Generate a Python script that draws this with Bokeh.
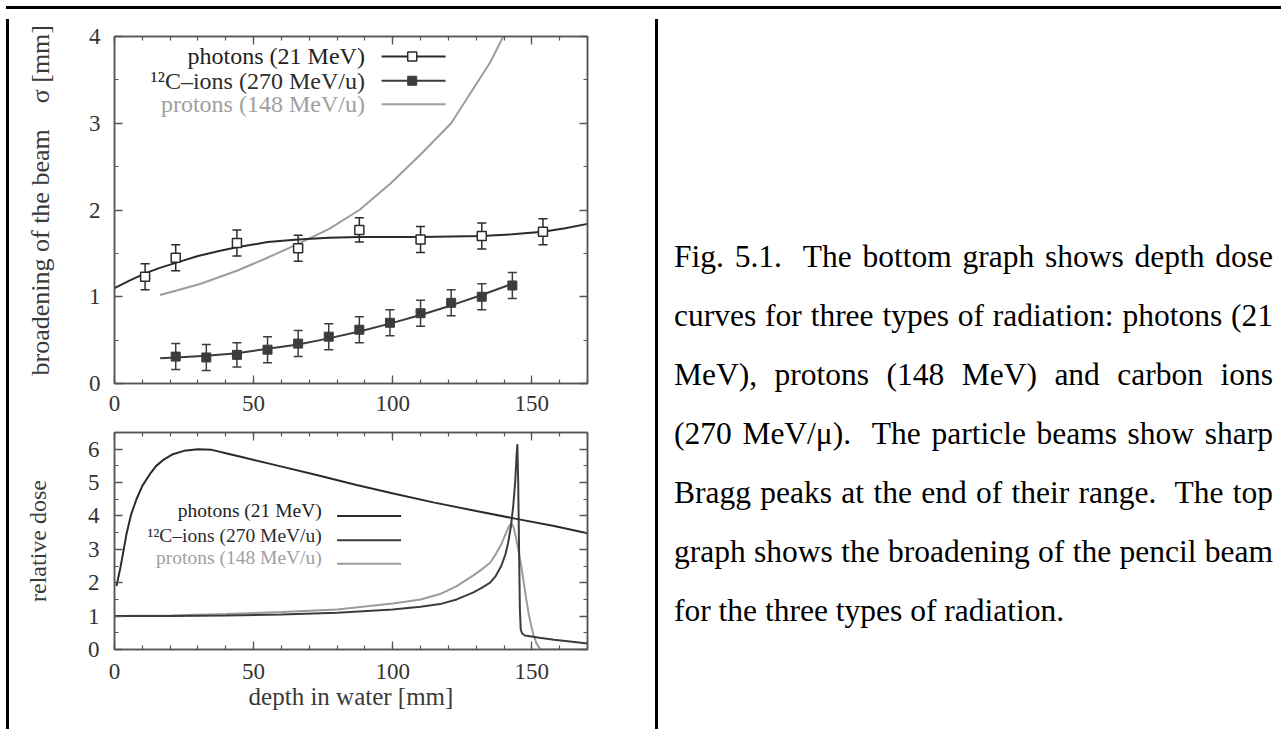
from bokeh.plotting import figure
from bokeh.models import (ColumnDataSource, Whisker, TeeHead, LinearAxis,
                          SingleIntervalTicker, Range1d, Div, Spacer)
from bokeh.layouts import column, row
from bokeh.embed import file_html
from bokeh.resources import INLINE
from bokeh.core.properties import value

# ---------------- data: top graph (beam broadening) ----------------
ph_pts_x = [11, 22, 44, 66, 88, 110, 132, 154]
ph_pts_y = [1.23, 1.45, 1.62, 1.56, 1.77, 1.66, 1.70, 1.75]
ph_pts_err = [0.15, 0.15, 0.15, 0.15, 0.14, 0.15, 0.15, 0.15]

ph_fit_x = [0, 5, 11, 16, 22, 30, 38, 44, 55, 66, 77, 88, 99, 110, 121, 132, 143, 154, 162, 170]
ph_fit_y = [1.10, 1.18, 1.27, 1.33, 1.39, 1.47, 1.53, 1.57, 1.63, 1.66, 1.68, 1.69, 1.69, 1.69,
            1.695, 1.70, 1.72, 1.75, 1.79, 1.84]

c_pts_x = [22, 33, 44, 55, 66, 77, 88, 99, 110, 121, 132, 143]
c_pts_y = [0.31, 0.30, 0.33, 0.39, 0.46, 0.54, 0.62, 0.70, 0.81, 0.93, 1.00, 1.13]
c_pts_err = [0.15, 0.15, 0.14, 0.15, 0.15, 0.15, 0.15, 0.15, 0.15, 0.15, 0.15, 0.15]

c_fit_x = [16.4, 22, 33, 44, 55, 66, 77, 88, 99, 110, 121, 132, 143]
c_fit_y = [0.29, 0.30, 0.32, 0.35, 0.40, 0.45, 0.52, 0.60, 0.69, 0.79, 0.90, 1.02, 1.15]

pr_top_x = [16.4, 22, 31, 44, 55, 66, 77, 88, 99, 110, 121, 129, 135, 140.5, 145]
pr_top_y = [1.02, 1.07, 1.15, 1.30, 1.45, 1.61, 1.78, 2.00, 2.30, 2.64, 3.00, 3.40, 3.70, 4.05, 4.4]

# ---------------- data: bottom graph (depth dose) ----------------
ph_dose_x = [0.7, 2, 3, 4.4, 6, 7.9, 10, 12.7, 15, 17.4, 21, 25, 30, 35, 40, 45, 59, 73, 87,
             101, 115, 130, 144, 158, 170]
ph_dose_y = [1.9, 2.4, 2.85, 3.5, 4.05, 4.5, 4.9, 5.25, 5.5, 5.67, 5.85, 5.95, 6.0, 5.98, 5.88,
             5.78, 5.5, 5.22, 4.93, 4.66, 4.4, 4.15, 3.92, 3.7, 3.48]

c_dose_x = [0, 20, 40, 60, 80, 100, 110, 117, 123, 129, 131, 133, 135, 137, 139, 140.5, 141.5,
            142.5, 143.3, 144, 144.5, 144.8, 145.1, 145.4, 145.7, 146, 146.5, 147.5, 152.7, 158,
            164.5, 170]
c_dose_y = [1.0, 1.0, 1.02, 1.05, 1.1, 1.2, 1.28, 1.36, 1.5, 1.71, 1.8, 1.9, 2.0, 2.2, 2.5, 2.85,
            3.2, 3.7, 4.3, 5.0, 5.8, 6.15, 5.0, 3.0, 1.2, 0.6, 0.48, 0.42, 0.35, 0.29, 0.23, 0.18]

pr_dose_x = [0, 20, 40, 60, 80, 100, 110, 117, 123, 129, 132, 135, 137, 139, 140.5, 141.7, 142.7,
             143.5, 144.4, 145.3, 146.2, 147.1, 148, 148.9, 149.8, 150.7, 151.6, 152.5, 153.4, 170]
pr_dose_y = [1.0, 1.02, 1.06, 1.12, 1.2, 1.38, 1.5, 1.66, 1.9, 2.22, 2.4, 2.6, 2.85, 3.15, 3.45,
             3.68, 3.78, 3.65, 3.3, 2.9, 2.5, 2.0, 1.5, 1.05, 0.7, 0.4, 0.2, 0.07, 0.0, 0.0]

# ---------------- labels ----------------
top_ylabel = "\u00a0\u00a0\u00a0broadening of the beam\u00a0\u00a0\u00a0\u00a0σ [mm]"
bot_ylabel = "relative dose"
bot_xlabel = "depth in water [mm]"
legend_labels = ["photons (21 MeV)", "\u00b9\u00b2C\u2013ions (270 MeV/u)", "protons (148 MeV/u)"]
caption_lines = [
    "Fig. 5.1.\u00a0 The bottom graph shows depth dose",
    "curves for three types of radiation: photons (21",
    "MeV), protons (148 MeV) and carbon ions",
    "(270 MeV/\u03bc).\u00a0 The particle beams show sharp",
    "Bragg peaks at the end of their range.\u00a0 The top",
    "graph shows the broadening of the pencil beam",
    "for the three types of radiation.",
]

SERIF = "Liberation Serif"
C_PH = "#2b2b2b"
C_C = "#3c3c3c"
C_PR = "#9c9c9c"
AX = "#555555"


def style_axes(p, xint, xminor, yint, yminor, tick_font):
    p.grid.visible = False
    p.outline_line_color = AX
    p.outline_line_width = 1.5
    bx = p.below[0]
    ly = p.left[0]
    bx.ticker = SingleIntervalTicker(interval=xint, num_minor_ticks=xminor)
    ly.ticker = SingleIntervalTicker(interval=yint, num_minor_ticks=yminor)
    ax_top = LinearAxis(ticker=SingleIntervalTicker(interval=xint, num_minor_ticks=xminor))
    ax_right = LinearAxis(ticker=SingleIntervalTicker(interval=yint, num_minor_ticks=yminor))
    p.add_layout(ax_top, "above")
    p.add_layout(ax_right, "right")
    for ax in (bx, ly, ax_top, ax_right):
        ax.axis_line_color = AX
        ax.axis_line_width = 1.5
        ax.major_tick_line_color = AX
        ax.minor_tick_line_color = AX
        ax.major_tick_line_width = 1.3
        ax.minor_tick_line_width = 1.2
        ax.major_tick_in = 8
        ax.major_tick_out = 0
        ax.minor_tick_in = 4
        ax.minor_tick_out = 0
        ax.major_label_text_font = SERIF
        ax.major_label_text_font_size = tick_font
        ax.major_label_text_color = "#333333"
        ax.axis_label_text_font = SERIF
        ax.axis_label_text_font_style = "normal"
        ax.axis_label_text_color = "#3a3a3a"
    for ax in (ax_top, ax_right):
        ax.major_label_text_font_size = "0px"
        ax.major_label_text_color = None
        ax.major_label_standoff = 0
    return bx, ly


# ---------------- top figure ----------------
top = figure(width=636, height=406, x_range=Range1d(0, 170), y_range=Range1d(0, 4),
             output_backend="svg", toolbar_location=None,
             min_border_left=100, min_border_right=63, min_border_top=22, min_border_bottom=37)
tx, ty = style_axes(top, 50, 5, 1, 2, "23px")
tx.major_label_standoff = 12
ty.major_label_standoff = 14
ty.axis_label = top_ylabel
ty.axis_label_text_font_size = "26px"
ty.axis_label_standoff = 31

top.line(pr_top_x, pr_top_y, line_color=C_PR, line_width=2)
top.line(ph_fit_x, ph_fit_y, line_color=C_PH, line_width=2)
top.line(c_fit_x, c_fit_y, line_color=C_C, line_width=2)

ph_src = ColumnDataSource(dict(x=ph_pts_x, y=ph_pts_y,
                               lo=[y - e for y, e in zip(ph_pts_y, ph_pts_err)],
                               hi=[y + e for y, e in zip(ph_pts_y, ph_pts_err)]))
c_src = ColumnDataSource(dict(x=c_pts_x, y=c_pts_y,
                              lo=[y - e for y, e in zip(c_pts_y, c_pts_err)],
                              hi=[y + e for y, e in zip(c_pts_y, c_pts_err)]))
for src, col in ((ph_src, C_PH), (c_src, C_C)):
    w = Whisker(source=src, base="x", upper="hi", lower="lo", dimension="height",
                line_color=col, line_width=1.5,
                upper_head=TeeHead(size=9, line_color=col, line_width=1.5),
                lower_head=TeeHead(size=9, line_color=col, line_width=1.5))
    top.add_layout(w)
top.scatter("x", "y", source=ph_src, marker="square", size=9, fill_color="white",
            line_color=C_PH, line_width=1.5)
top.scatter("x", "y", source=c_src, marker="square", size=9, fill_color=C_C,
            line_color=C_C, line_width=1)

# legend (gnuplot style: label left, sample right)
leg_y = [3.77, 3.49, 3.22]
leg_cols = [C_PH, C_C, C_PR]
top.text(x=[90, 90, 90], y=leg_y, text=legend_labels, text_align="right", text_baseline="middle",
         text_font=value(SERIF), text_font_size="24px", text_color=["#222222", "#2e2e2e", "#a0a0a0"])
for yy, col in zip(leg_y, leg_cols):
    top.line([96, 119], [yy, yy], line_color=col, line_width=2)
top.scatter([107], [leg_y[0]], marker="square", size=9, fill_color="white", line_color=C_PH, line_width=1.5)
top.scatter([107], [leg_y[1]], marker="square", size=9, fill_color=C_C, line_color=C_C)

# ---------------- bottom figure ----------------
bot = figure(width=636, height=311, x_range=Range1d(0, 170), y_range=Range1d(0, 6.5),
             output_backend="svg", toolbar_location=None,
             min_border_left=99, min_border_right=60, min_border_top=12, min_border_bottom=82)
bx, by = style_axes(bot, 50, 5, 1, 2, "23px")
bx.major_label_standoff = 14
by.major_label_standoff = 15
bx.axis_label = bot_xlabel
bx.axis_label_text_font_size = "25px"
bx.axis_label_standoff = 1
by.axis_label = bot_ylabel
by.axis_label_text_font_size = "24px"
by.axis_label_standoff = 34

bot.line(pr_dose_x, pr_dose_y, line_color=C_PR, line_width=2)
bot.line(c_dose_x, c_dose_y, line_color=C_C, line_width=2)
bot.line(ph_dose_x, ph_dose_y, line_color=C_PH, line_width=2)

bl_text_y = [4.17, 3.4, 2.75]
bl_line_y = [4.0, 3.27, 2.57]
bot.text(x=[74.5] * 3, y=bl_text_y, text=legend_labels, text_align="right", text_baseline="middle",
         text_font=value(SERIF), text_font_size="19.5px", text_color=["#222222", "#2e2e2e", "#a0a0a0"])
for yy, col in zip(bl_line_y, leg_cols):
    bot.line([80, 103], [yy, yy], line_color=col, line_width=2)

# ---------------- caption ----------------
line_divs = []
for i, ln in enumerate(caption_lines):
    last = i == len(caption_lines) - 1
    al = "left" if last else "justify"
    line_divs.append(f'<div style="text-align:{al};text-align-last:{al};white-space:nowrap;">{ln}</div>')
caption_html = ('<div style="padding-left:6px;padding-top:208px;width:605px;'
                f'font-family:\'{SERIF}\';font-size:31.5px;line-height:59px;color:#000;">'
                + "".join(line_divs) + '</div>')
caption = Div(text=caption_html, width=633, height=717)

blk = {"background-color": "#000000"}
top_bar = Div(text="", width=1275, height=3, styles=blk)
left_bar = Div(text="", width=3, height=717, styles=blk)
mid_bar = Div(text="", width=3, height=717, styles=blk)

layout = column(
    Spacer(width=1276, height=1),
    row(Spacer(width=1, height=3), top_bar),
    row(Spacer(width=1, height=717), left_bar, column(top, bot), mid_bar, caption),
)

open("out.html", "w").write(file_html(layout, INLINE))
